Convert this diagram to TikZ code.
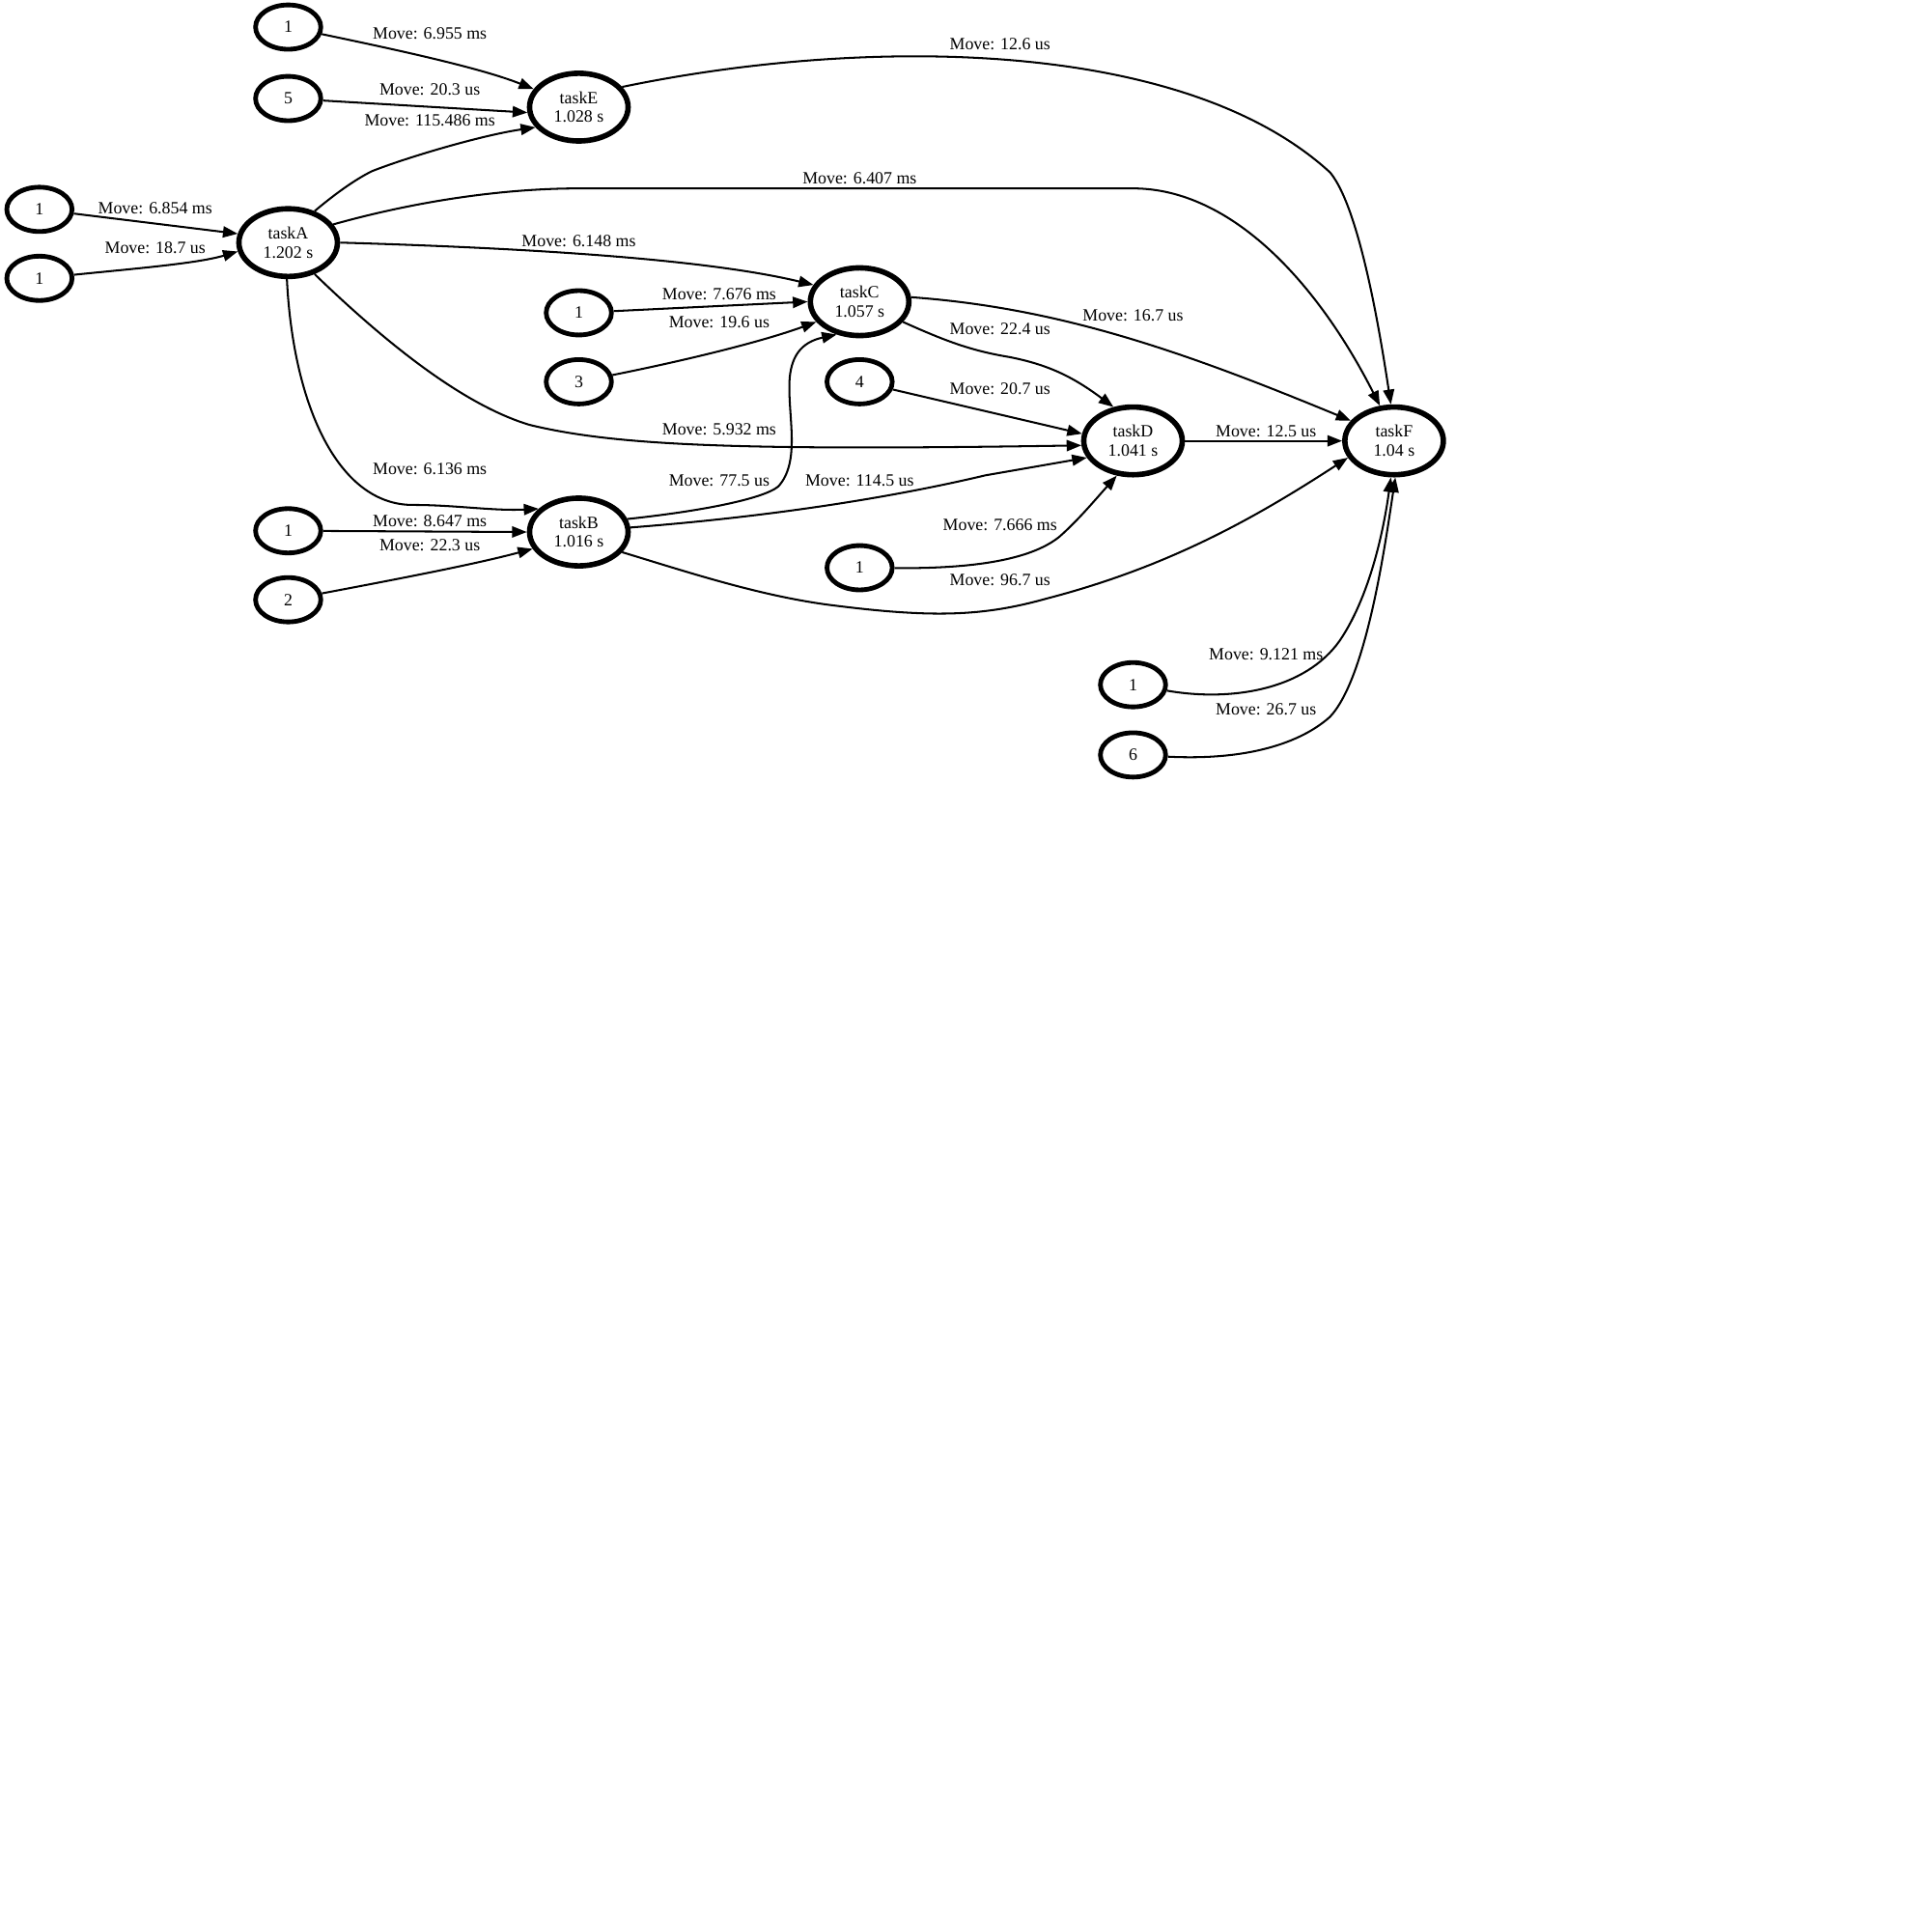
\documentclass[tikz,border=0pt]{standalone}
\usepackage{fontspec}
\setmainfont{Liberation Serif}
\usetikzlibrary{shapes.geometric,arrows.meta}
\begin{document}
\begin{tikzpicture}[x=1pt,y=-1pt,
  every node/.style={font=\fontsize{14}{15.5}\selectfont},
  small/.style={ellipse,draw,line width=3.8pt,minimum width=53pt,minimum height=36pt,inner sep=0pt},
  task/.style={ellipse,draw,line width=4.4pt,minimum width=80pt,minimum height=55pt,inner sep=0pt,align=center},
  edge/.style={line width=1.6pt,-{Triangle[length=12pt,width=9pt]}},
  lbl/.style={inner sep=0pt}]
\useasboundingbox (0,0) rectangle (1568,1568);
% nodes
\node[small] (s1a) at (234,22) {1};
\node[small] (s5) at (234,80) {5};
\node[task] (taskE) at (470,87) {taskE\\1.028 s};
\node[small] (s1b) at (32,170) {1};
\node[small] (s1c) at (32,226) {1};
\node[task] (taskA) at (234,197) {taskA\\1.202 s};
\node[small] (s1d) at (470,254) {1};
\node[small] (s3) at (470,310) {3};
\node[task] (taskC) at (698,245) {taskC\\1.057 s};
\node[small] (s4) at (698,310) {4};
\node[task] (taskD) at (920,358) {taskD\\1.041 s};
\node[task] (taskF) at (1132,358) {taskF\\1.04 s};
\node[small] (s1e) at (234,431) {1};
\node[small] (s2) at (234,487) {2};
\node[task] (taskB) at (470,432) {taskB\\1.016 s};
\node[small] (s1f) at (698,461) {1};
\node[small] (s1g) at (920,556) {1};
\node[small] (s6) at (920,613) {6};
% edges
\draw[edge] (s1a) .. controls (320,40) and (390,55) .. (taskE);
\draw[edge] (s5) -- (taskE.186);
\draw[edge] (taskA.50) .. controls (275,155) and (290,145) .. (302,139) .. controls (330,128) and (390,110) .. (taskE.205);
\draw[edge] (taskE.25) .. controls (700,30) and (960,30) .. (1080,140) .. controls (1105,170) and (1122,280) .. (taskF.95);
\draw[edge] (s1b) -- (taskA.170);
\draw[edge] (s1c) .. controls (110,218) and (160,214) .. (taskA.190);
\draw[edge] (taskA.22) .. controls (350,160) and (420,153) .. (470,153) -- (920,153) .. controls (1000,153) and (1070,230) .. (taskF.112);
\draw[edge] (taskA.0) .. controls (450,202) and (580,212) .. (taskC.160);
\draw[edge] (s1d) -- (taskC.180);
\draw[edge] (s3) .. controls (560,292) and (620,277) .. (taskC.205);
\draw[edge] (taskC.5) .. controls (860,250) and (960,285) .. (taskF.155);
\draw[edge] (taskC.335) .. controls (770,278) and (790,285) .. (820,290) .. controls (850,296) and (870,305) .. (taskD.120);
\draw[edge] (s4) -- (taskD.172);
\draw[edge] (taskA.310) .. controls (320,285) and (380,330) .. (430,345) .. controls (500,362) and (600,366) .. (taskD.185);
\draw[edge] (taskD) -- (taskF);
\draw[edge] (taskA.268) .. controls (238,330) and (275,410) .. (335,410) .. controls (370,410) and (400,415) .. (taskB.150);
\draw[edge] (taskB.15) .. controls (570,415) and (620,405) .. (632,395) .. controls (650,375) and (640,340) .. (641,310) .. controls (642,290) and (650,278) .. (taskC.235);
\draw[edge] (taskB.5) .. controls (620,420) and (720,405) .. (800,386) -- (taskD.200);
\draw[edge] (s1e) -- (taskB.180);
\draw[edge] (s2) .. controls (340,467) and (390,457) .. (taskB.200);
\draw[edge] (s1f) .. controls (800,462) and (840,452) .. (860,436) .. controls (875,423) and (890,405) .. (taskD.245);
\draw[edge] (taskB.335) .. controls (560,465) and (620,485) .. (680,492) .. controls (760,502) and (800,500) .. (850,486) .. controls (950,460) and (1020,420) .. (taskF.200);
\draw[edge] (s1g) .. controls (1000,570) and (1060,560) .. (1088,520) .. controls (1115,480) and (1125,420) .. (taskF.265);
\draw[edge] (s6) .. controls (1020,618) and (1060,600) .. (1080,582) .. controls (1110,550) and (1125,440) .. (taskF.272);
% labels
\node[lbl] (l1) at (349,27) {Move: 6.955 ms};
\node[lbl] (l2) at (349,73) {Move: 20.3 us};
\node[lbl] (l3) at (349,98) {Move: 115.486 ms};
\node[lbl] (l4) at (812,36) {Move: 12.6 us};
\node[lbl] (l5) at (126,169) {Move: 6.854 ms};
\node[lbl] (l6) at (126,201) {Move: 18.7 us};
\node[lbl] (l7) at (698,145) {Move: 6.407 ms};
\node[lbl] (l8) at (470,196) {Move: 6.148 ms};
\node[lbl] (l9) at (584,239) {Move: 7.676 ms};
\node[lbl] (l10) at (584,262) {Move: 19.6 us};
\node[lbl] (l11) at (920,256) {Move: 16.7 us};
\node[lbl] (l12) at (812,267) {Move: 22.4 us};
\node[lbl] (l13) at (812,316) {Move: 20.7 us};
\node[lbl] (l14) at (584,349) {Move: 5.932 ms};
\node[lbl] (l15) at (1028,350) {Move: 12.5 us};
\node[lbl] (l16) at (349,381) {Move: 6.136 ms};
\node[lbl] (l17) at (584,390) {Move: 77.5 us};
\node[lbl] (l18) at (698,390) {Move: 114.5 us};
\node[lbl] (l19) at (349,423) {Move: 8.647 ms};
\node[lbl] (l20) at (349,443) {Move: 22.3 us};
\node[lbl] (l21) at (812,426) {Move: 7.666 ms};
\node[lbl] (l22) at (812,471) {Move: 96.7 us};
\node[lbl] (l23) at (1028,531) {Move: 9.121 ms};
\node[lbl] (l24) at (1028,576) {Move: 26.7 us};
\end{tikzpicture}
\end{document}
